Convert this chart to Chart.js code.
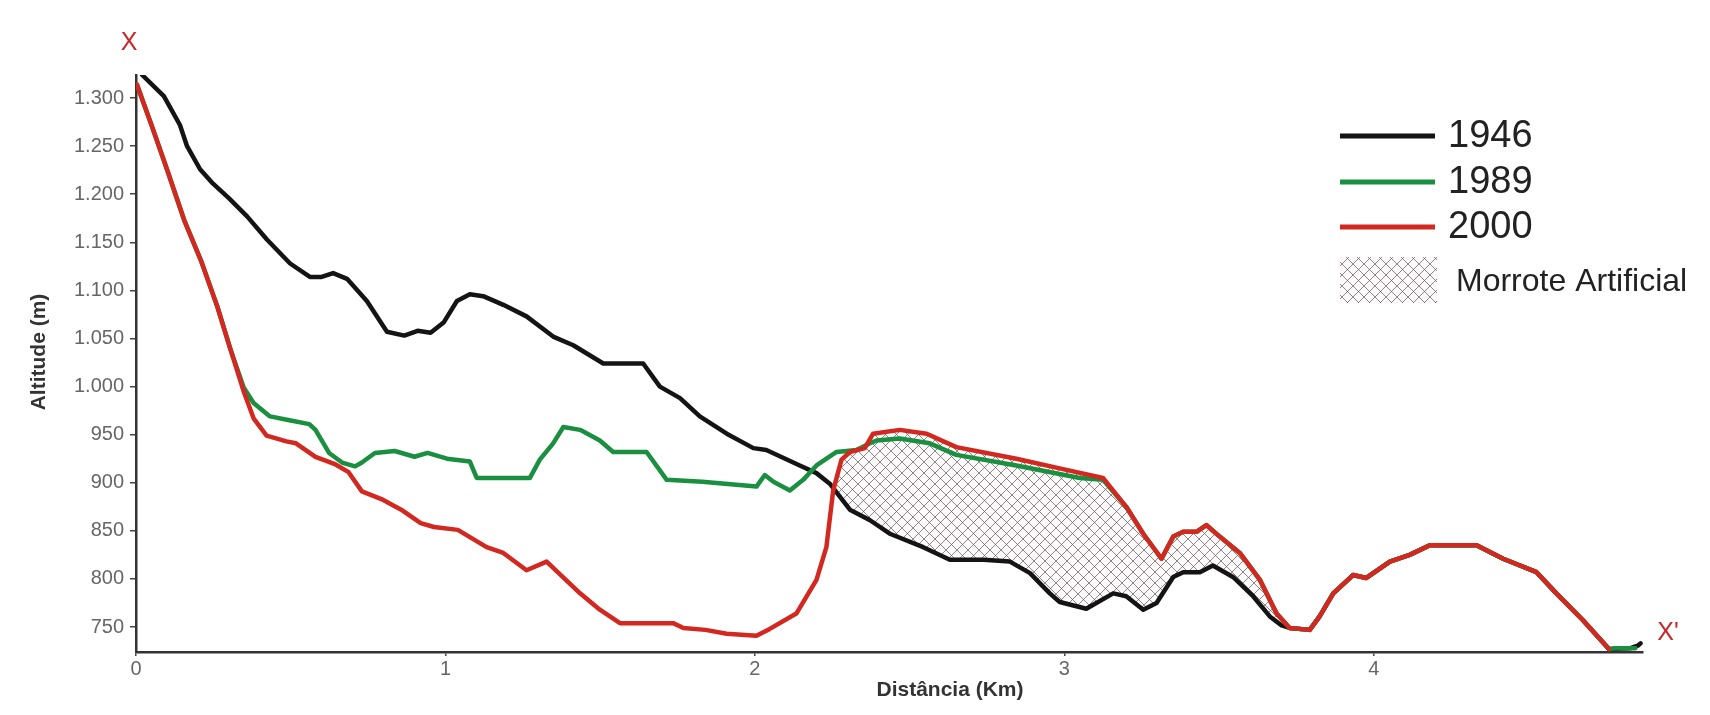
<!DOCTYPE html>
<html>
<head>
<meta charset="utf-8">
<script src="https://cdn.jsdelivr.net/npm/chart.js@4.4.1/dist/chart.umd.min.js"></script>
<style>
  html, body { margin: 0; padding: 0; background: #fff; }
  #wrap { width: 1710px; height: 715px; }
</style>
</head>
<body>
<div id="wrap"><canvas id="perfil" width="1710" height="715"></canvas></div>
<script>
// perfil topográfico X - X'

const xTicks = [0, 1, 2, 3, 4];
const yTicks = [750, 800, 850, 900, 950, 1000, 1050, 1100, 1150, 1200, 1250, 1300];
const yTickLabels = ['750', '800', '850', '900', '950', '1.000', '1.050', '1.100', '1.150', '1.200', '1.250', '1.300'];

const dist1946 = [0.02, 0.09, 0.142, 0.165, 0.207, 0.249, 0.30, 0.359, 0.423, 0.498, 0.562, 0.60, 0.637, 0.682, 0.746, 0.811, 0.867, 0.91, 0.952, 0.995, 1.037, 1.079, 1.122, 1.187, 1.262, 1.348, 1.413, 1.51, 1.639, 1.693, 1.758, 1.822, 1.909, 1.995, 2.037, 2.145, 2.199, 2.242, 2.307, 2.372, 2.436, 2.544, 2.63, 2.738, 2.824, 2.889, 2.953, 2.985, 3.071, 3.158, 3.2, 3.255, 3.298, 3.352, 3.384, 3.438, 3.48, 3.545, 3.61, 3.664, 3.70, 3.728, 3.793, 3.825, 3.869, 3.933, 3.976, 4.052, 4.116, 4.181, 4.332, 4.418, 4.526, 4.59, 4.676, 4.76, 4.83, 4.855, 4.862];
const alt1946 = [1324, 1302, 1272, 1250, 1226, 1211, 1196, 1177, 1153, 1128, 1114, 1114, 1118, 1112, 1089, 1057, 1053, 1058, 1056, 1067, 1089, 1096, 1094, 1085, 1073, 1052, 1043, 1024, 1024, 1000, 988, 969, 951, 936, 934, 918, 910, 899, 872, 861, 847, 833, 820, 820, 818, 806, 785, 776, 769, 785, 782, 768, 775, 802, 807, 807, 814, 802, 782, 761, 752, 749, 747, 761, 785, 804, 801, 818, 825, 835, 835, 821, 807, 785, 757, 727, 728, 731, 733];

const dist1989 = [0.003, 0.05, 0.10, 0.157, 0.21, 0.263, 0.305, 0.348, 0.38, 0.433, 0.496, 0.56, 0.58, 0.624, 0.666, 0.708, 0.73, 0.772, 0.836, 0.90, 0.942, 1.005, 1.079, 1.101, 1.273, 1.305, 1.348, 1.381, 1.435, 1.499, 1.542, 1.65, 1.715, 1.83, 2.005, 2.032, 2.06, 2.113, 2.156, 2.199, 2.264, 2.328, 2.372, 2.393, 2.468, 2.565, 2.651, 2.845, 3.05, 3.125, 3.2, 3.255, 3.314, 3.352, 3.384, 3.427, 3.459, 3.502, 3.567, 3.632, 3.686, 3.728, 3.793, 3.825, 3.869, 3.933, 3.976, 4.052, 4.116, 4.181, 4.332, 4.418, 4.526, 4.59, 4.676, 4.76, 4.78, 4.845];
const alt1989 = [1314, 1272, 1226, 1172, 1131, 1083, 1039, 999, 983, 969, 965, 961, 955, 931, 921, 917, 921, 931, 933, 927, 931, 925, 922, 905, 905, 924, 941, 958, 955, 944, 932, 932, 903, 901, 896, 908, 901, 892, 903, 918, 932, 934, 941, 944, 946, 941, 929, 918, 905, 903, 875, 847, 821, 844, 849, 849, 856, 844, 827, 799, 764, 749, 747, 761, 785, 804, 801, 818, 825, 835, 835, 821, 807, 785, 757, 727, 728, 728];

const dist2000 = [0.003, 0.05, 0.10, 0.157, 0.21, 0.263, 0.305, 0.348, 0.38, 0.422, 0.486, 0.517, 0.58, 0.645, 0.687, 0.73, 0.793, 0.857, 0.92, 0.963, 1.04, 1.133, 1.187, 1.262, 1.327, 1.435, 1.499, 1.564, 1.736, 1.769, 1.84, 1.909, 2.005, 2.048, 2.134, 2.199, 2.231, 2.253, 2.28, 2.307, 2.355, 2.382, 2.468, 2.555, 2.651, 2.845, 2.985, 3.125, 3.2, 3.255, 3.314, 3.352, 3.384, 3.427, 3.459, 3.502, 3.567, 3.632, 3.686, 3.728, 3.793, 3.825, 3.869, 3.933, 3.976, 4.052, 4.116, 4.181, 4.332, 4.418, 4.526, 4.59, 4.676, 4.76];
const alt2000 = [1314, 1272, 1226, 1172, 1131, 1083, 1039, 995, 967, 949, 943, 941, 927, 919, 911, 891, 883, 872, 858, 854, 851, 833, 827, 809, 818, 785, 768, 754, 754, 749, 747, 743, 741, 748, 764, 799, 833, 892, 924, 932, 936, 951, 955, 951, 937, 925, 915, 905, 875, 847, 821, 844, 849, 849, 856, 844, 827, 799, 764, 749, 747, 761, 785, 804, 801, 818, 825, 835, 835, 821, 807, 785, 757, 727];

const anos = ['1946', '1989', '2000'];
const coresLinhas = ['#141414', '#1a8f40', '#d3281f'];

function pontos(xs, ys) {
    return xs.map((x, i) => ({ x: x, y: ys[i] }));
}

// padrão hachurado do morrote
function criarHachura() {
    const t = 11;
    const c = document.createElement('canvas');
    c.width = t; c.height = t;
    const g = c.getContext('2d');
    g.fillStyle = '#fcfafa';
    g.fillRect(0, 0, t, t);
    g.strokeStyle = 'rgba(95,85,85,0.7)';
    g.lineWidth = 1;
    g.beginPath();
    g.moveTo(0, 0); g.lineTo(t, t);
    g.moveTo(t, 0); g.lineTo(0, t);
    g.stroke();
    return g.createPattern(c, 'repeat');
}
const hachura = criarHachura();

const fonte = "'Liberation Sans', Arial, sans-serif";

const extras = {
    id: 'extras',
    afterDraw(chart) {
        const ctx = chart.ctx;
        ctx.save();

        // titulos dos eixos
        ctx.fillStyle = '#333';
        ctx.font = 'bold 21px ' + fonte;
        ctx.textAlign = 'center';
        ctx.textBaseline = 'middle';
        ctx.fillText('Distância (Km)', 950, 690);
        ctx.save();
        ctx.translate(39, 352);
        ctx.rotate(-Math.PI / 2);
        ctx.fillText('Altitude (m)', 0, 0);
        ctx.restore();

        // marcas X e X'
        ctx.fillStyle = '#c8282a';
        ctx.font = '25px ' + fonte;
        ctx.fillText('X', 129, 43);
        ctx.fillText("X'", 1668, 633);

        // legenda
        const ly = [136, 182, 227];
        ctx.lineWidth = 5;
        ctx.textAlign = 'left';
        ctx.font = '38px ' + fonte;
        for (let i = 0; i < anos.length; i++) {
            ctx.strokeStyle = coresLinhas[i];
            ctx.beginPath();
            ctx.moveTo(1340, ly[i]);
            ctx.lineTo(1435, ly[i]);
            ctx.stroke();
            ctx.fillStyle = '#222';
            ctx.fillText(anos[i], 1448, ly[i] + 1);
        }
        ctx.fillStyle = hachura;
        ctx.fillRect(1340, 257, 97, 46);
        ctx.fillStyle = '#222';
        ctx.font = '32px ' + fonte;
        ctx.fillText('Morrote Artificial', 1456, 282);

        ctx.restore();
    }
};

const ctx = document.getElementById('perfil');

new Chart(ctx, {
    type: 'line',
    data: {
        datasets: [
            {
                label: anos[0],
                data: pontos(dist1946, alt1946),
                borderColor: coresLinhas[0],
                order: 3
            },
            {
                label: anos[1],
                data: pontos(dist1989, alt1989),
                borderColor: coresLinhas[1],
                order: 2
            },
            {
                label: anos[2],
                data: pontos(dist2000, alt2000),
                borderColor: coresLinhas[2],
                order: 1,
                fill: { target: 0, above: hachura, below: 'rgba(0,0,0,0)' }
            }
        ]
    },
    options: {
        responsive: false,
        animation: false,
        layout: { padding: { left: 0, top: 75, right: 67, bottom: 0 } },
        elements: {
            line: { borderWidth: 4.5, tension: 0, borderJoinStyle: 'round', borderCapStyle: 'round' },
            point: { radius: 0 }
        },
        plugins: {
            legend: { display: false },
            tooltip: { enabled: false },
            filler: { drawTime: 'beforeDatasetsDraw' }
        },
        scales: {
            x: {
                type: 'linear',
                min: 0,
                max: 4.87,
                afterFit: s => { s.height = 63; },
                afterBuildTicks: s => { s.ticks = xTicks.map(v => ({ value: v })); },
                grid: { display: true, drawOnChartArea: false, drawTicks: true, tickLength: 4, color: '#444', lineWidth: 1.5 },
                border: { display: true, color: '#333', width: 2.5 },
                ticks: {
                    padding: 1,
                    color: '#666',
                    font: { family: fonte, size: 20 },
                    callback: v => String(v)
                }
            },
            y: {
                type: 'linear',
                min: 724,
                max: 1324,
                afterFit: s => { s.width = 136; },
                afterBuildTicks: s => { s.ticks = yTicks.map(v => ({ value: v })); },
                grid: { display: true, drawOnChartArea: false, drawTicks: true, tickLength: 6, color: '#444', lineWidth: 1.5 },
                border: { display: true, color: '#333', width: 2.5 },
                ticks: {
                    padding: 6,
                    color: '#666',
                    font: { family: fonte, size: 20 },
                    callback: v => yTickLabels[yTicks.indexOf(v)]
                }
            }
        }
    },
    plugins: [extras]
});
</script>
</body>
</html>
